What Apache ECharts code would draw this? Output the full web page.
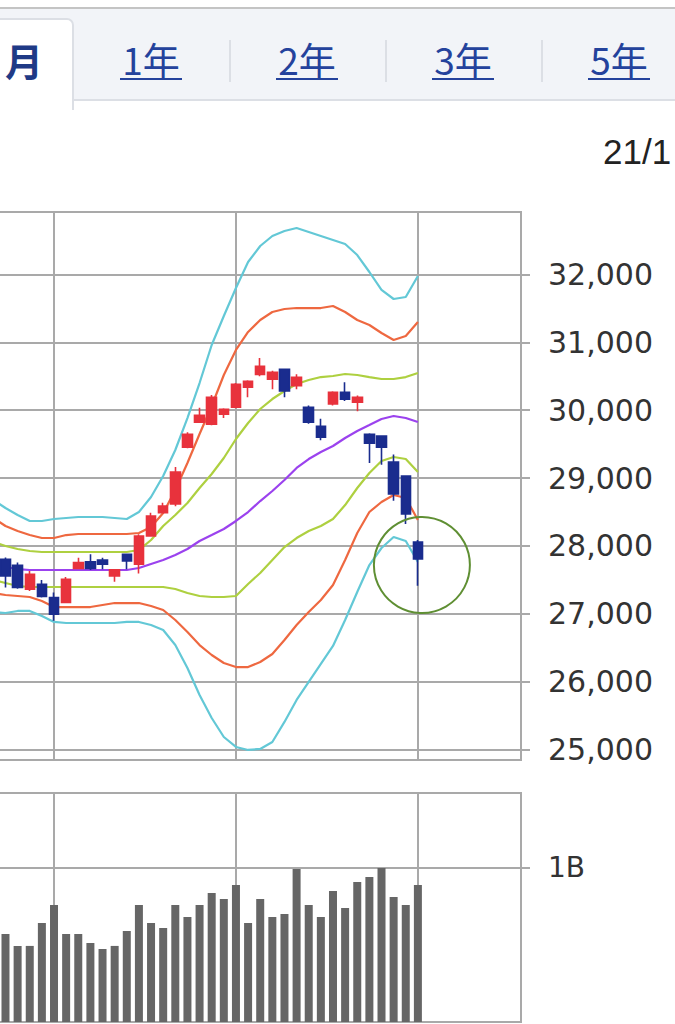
<!DOCTYPE html>
<html>
<head>
<meta charset="utf-8">
<script src="https://cdn.jsdelivr.net/npm/echarts/dist/echarts.min.js"></script>
<style>
html,body{margin:0;padding:0;background:#fff;}
#c{width:675px;height:1024px;}
</style>
</head>
<body>
<div id="c"></div>
<script>
// ---- categories (trading days; only Aug 16 .. Oct 5 carry candles) ----
const dates = [
 '07/29','07/30','08/02','08/03','08/04','08/05','08/06','08/10','08/11','08/12','08/13',
 '08/16','08/17','08/18','08/19','08/20','08/23','08/24','08/25','08/26','08/27','08/30','08/31',
 '09/01','09/02','09/03','09/06','09/07','09/08','09/09','09/10','09/13','09/14','09/15','09/16','09/17',
 '09/21','09/22','09/24','09/27','09/28','09/29','09/30','10/01','10/04','10/05',
 '10/06','10/07','10/08','10/11','10/12','10/13','10/14','10/15'
];
const candleStart = 11;   // first category carrying a candle / volume bar
const bandStart = 10;     // first category carrying band values

// ---- candles ----
const candleOpen  = [27804,27716,27363,27436,27240,27167,27667,27765,27794,27559,27877,27730,28147,28490,28618,29456,29824,29794,29941,30044,30338,30529,30456,30603,30363,30044,29765,30093,30265,30118,29647,29618,29235,29029,28059];
const candleClose = [27559,27388,27583,27255,26995,27510,27755,27667,27730,27647,27779,28147,28441,28588,29088,29647,29926,30190,30015,30382,30426,30647,30559,30284,30485,29824,29603,30265,30162,30191,29515,29456,28765,28471,27809];
const candleLow   = [27388,27370,27338,27240,26898,27160,27660,27647,27657,27471,27657,27593,28140,28480,28586,29440,29814,29780,29887,30030,30191,30500,30309,30191,30309,29800,29559,30069,30137,29985,29221,29196,28667,28324,27412];
const candleHigh  = [27830,27755,27632,27500,27314,27544,27828,27877,27828,27660,27880,28172,28490,28637,29162,29676,30038,30225,30030,30400,30440,30770,30580,30610,30529,30070,29873,30280,30412,30216,29660,29630,29348,29040,28088];

// ---- volume (millions of shares) ----
const volume = [571,494,494,643,760,571,571,513,474,494,591,760,643,610,760,682,760,838,799,890,643,799,682,701,994,760,682,851,740,909,942,1000,812,760,890];

// ---- Bollinger band lines (one value per day, starting one day before first candle) ----
const bandPlus3  = [28677,28559,28456,28368,28368,28397,28412,28427,28427,28427,28412,28397,28500,28721,29031,29414,29885,30401,30961,31388,31801,32184,32420,32567,32641,32685,32626,32567,32508,32449,32287,32037,31772,31639,31668,31978];
const bandPlus2  = [28412,28294,28220,28161,28117,28117,28161,28176,28176,28176,28176,28176,28191,28279,28485,28824,29222,29650,30062,30519,30888,31153,31330,31447,31492,31506,31506,31506,31536,31447,31330,31256,31138,31035,31094,31300];
const bandPlus1  = [28058,27999,27955,27926,27911,27911,27911,27911,27911,27911,27911,27911,27940,28088,28294,28456,28633,28854,29060,29296,29576,29812,30018,30165,30283,30386,30445,30489,30504,30534,30519,30489,30460,30460,30489,30549];
const movingAvg  = [27719,27690,27660,27646,27646,27646,27646,27646,27646,27646,27646,27646,27675,27734,27793,27867,27955,28073,28161,28250,28368,28500,28662,28810,28972,29149,29281,29384,29473,29591,29694,29782,29871,29915,29885,29826];
const bandMinus1 = [27500,27454,27410,27395,27395,27395,27395,27395,27395,27395,27395,27395,27395,27395,27395,27366,27307,27263,27248,27248,27263,27440,27601,27793,27984,28117,28220,28294,28397,28603,28854,29075,29252,29311,29281,29090];
const bandMinus2 = [27307,27277,27263,27248,27189,27100,27100,27100,27100,27130,27159,27159,27159,27115,27056,26909,26732,26540,26393,26275,26216,26216,26290,26408,26614,26835,27027,27204,27425,27793,28191,28500,28648,28751,28707,28383];
const bandMinus3 = [27027,27012,27042,27042,26968,26880,26865,26865,26865,26865,26865,26880,26880,26835,26762,26541,26202,25804,25465,25185,25038,24994,25009,25112,25407,25731,25996,26261,26526,26909,27322,27719,27970,28132,28073,27764];

// ---- axis ticks ----
const priceTicks = [25000,26000,27000,28000,29000,30000,31000,32000];
const volumeTicks = [1000];
const tabLabels = ['1年','2年','3年','5年'];

const upColor = '#e8323c', downColor = '#1a2c8e';
const gridColor = '#a9a9a9';

const chart = echarts.init(document.getElementById('c'), null, {renderer:'svg', width:675, height:1024});

function xAxisFor(gi){
  return {
    type:'category', gridIndex:gi, data:dates, boundaryGap:true,
    axisLine:{show:false}, axisTick:{show:false}, axisLabel:{show:false},
    splitLine:{show:true, alignWithLabel:true, interval:(i)=> i % 15 === 0,
      lineStyle:{color:gridColor, width:2}}
  };
}
function bandSeries(name, arr, color){
  return {
    name, type:'line', xAxisIndex:0, yAxisIndex:0, z:2,
    data: arr.map((v,i)=>[i+bandStart, v]),
    symbol:'none', smooth:false, silent:true,
    lineStyle:{color, width:2.2}
  };
}

const option = {
  animation:false,
  backgroundColor:'#ffffff',
  grid:[
    {left:-134, right:154, top:212, height:548, show:true, borderColor:gridColor, borderWidth:2,
     outerBoundsMode:'none', containLabel:false},
    {left:-134, right:154, top:793, height:229, show:true, borderColor:gridColor, borderWidth:2,
     outerBoundsMode:'none', containLabel:false}
  ],
  xAxis:[xAxisFor(0), xAxisFor(1)],
  yAxis:[
    { type:'value', gridIndex:0, position:'right', min:24846, max:32921, splitNumber:8,
      axisLine:{show:false},
      axisTick:{show:true, inside:false, length:9, customValues:priceTicks, lineStyle:{color:gridColor, width:2}},
      axisLabel:{customValues:priceTicks, margin:27, color:'#333', fontSize:30, fontFamily:'DejaVu Sans',
        formatter:(v)=> Number(v).toLocaleString('en-US')},
      splitLine:{show:true, lineStyle:{color:gridColor, width:2}}
    },
    { type:'value', gridIndex:1, position:'right', min:0, max:1487, interval:1000,
      axisLine:{show:false},
      axisTick:{show:true, inside:false, length:9, customValues:volumeTicks, lineStyle:{color:gridColor, width:2}},
      axisLabel:{customValues:volumeTicks, margin:27, color:'#333', fontSize:28, fontFamily:'DejaVu Sans',
        formatter:(v)=> (v/1000) + 'B'},
      splitLine:{show:true, lineStyle:{color:gridColor, width:2}}
    }
  ],
  series:[
    bandSeries('+3σ', bandPlus3, '#63c8d6'),
    bandSeries('+2σ', bandPlus2, '#ee6840'),
    bandSeries('+1σ', bandPlus1, '#aed040'),
    bandSeries('MA',  movingAvg, '#9b42ee'),
    bandSeries('-1σ', bandMinus1, '#aed040'),
    bandSeries('-2σ', bandMinus2, '#ee6840'),
    bandSeries('-3σ', bandMinus3, '#63c8d6'),
    {
      name:'price', type:'candlestick', xAxisIndex:0, yAxisIndex:0, z:5,
      barWidth:10,
      encode:{x:0, y:[1,2,3,4]},
      data: candleOpen.map((o,i)=>[i+candleStart, o, candleClose[i], candleLow[i], candleHigh[i]]),
      itemStyle:{color:upColor, color0:downColor, borderColor:upColor, borderColor0:downColor, borderWidth:1.6}
    },
    {
      name:'volume', type:'bar', xAxisIndex:1, yAxisIndex:1, barWidth:8,
      data: volume.map((v,i)=>[i+candleStart, v]),
      itemStyle:{color:'#666666'}
    }
  ],
  graphic:{ elements: [
    // tab bar
    {type:'rect', shape:{x:0, y:0, width:675, height:9}, style:{fill:'#ffffff'}, silent:true},
    {type:'rect', shape:{x:0, y:9, width:675, height:92}, style:{fill:'#f2f4f8'}, silent:true},
    {type:'line', shape:{x1:0, y1:8, x2:675, y2:8}, style:{stroke:'#c4c4c4', lineWidth:2}, silent:true},
    {type:'line', shape:{x1:73, y1:100, x2:675, y2:100}, style:{stroke:'#dcdfe5', lineWidth:2}, silent:true},
    {type:'rect', shape:{x:-10, y:19, width:83, height:90, r:[0,6,0,0]}, style:{fill:'#ffffff', stroke:'#dcdfe5', lineWidth:2}, silent:true},
    {type:'rect', shape:{x:-10, y:98, width:82, height:12}, style:{fill:'#ffffff'}, silent:true},
    {type:'text', style:{text:'月', x:5, y:59, font:'bold 38px "Noto Sans CJK JP"', fill:'#1f3a86', textVerticalAlign:'middle'}, silent:true},
    {type:'line', shape:{x1:230, y1:40, x2:230, y2:82}, style:{stroke:'#dcdfe5', lineWidth:2}, silent:true},
    {type:'line', shape:{x1:386, y1:40, x2:386, y2:82}, style:{stroke:'#dcdfe5', lineWidth:2}, silent:true},
    {type:'line', shape:{x1:542, y1:40, x2:542, y2:82}, style:{stroke:'#dcdfe5', lineWidth:2}, silent:true},
    ...tabLabels.map((t,k)=>({type:'text', style:{text:t, x:151+k*156, y:59, font:'37px "Noto Sans CJK JP"', fill:'#24429c', textAlign:'center', textVerticalAlign:'middle'}, silent:true})),
    ...tabLabels.map((t,k)=>({type:'line', shape:{x1:120+k*156, y1:79, x2:182+k*156, y2:79}, style:{stroke:'#24429c', lineWidth:2}, silent:true})),
    // date text
    {type:'text', style:{text:'21/1', x:603, y:151, font:'35px "Liberation Sans"', fill:'#222', textVerticalAlign:'middle'}, silent:true}
  ]}
};
chart.setOption(option);

// annotation circle around the latest candle
const lastIdx = candleStart + candleClose.length - 1;
const c = chart.convertToPixel({gridIndex:0}, [lastIdx, 27720]);
chart.setOption({graphic:{elements:[
  {type:'circle', id:'mark', shape:{cx:c[0]+4, cy:c[1], r:48}, style:{fill:'none', stroke:'#5f8f33', lineWidth:2}, silent:true, z:10}
]}});
</script>
</body>
</html>
